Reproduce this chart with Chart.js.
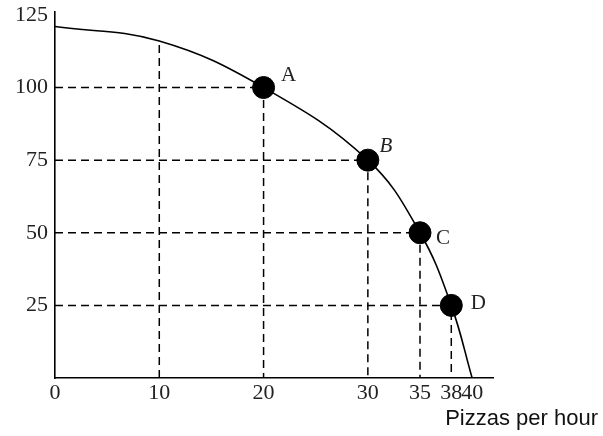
<!DOCTYPE html>
<html>
<head>
<meta charset="utf-8">
<script src="https://cdn.jsdelivr.net/npm/chart.js@4.4.1/dist/chart.umd.min.js"></script>
<style>
  html, body { margin: 0; padding: 0; background: #fff; }
  #wrap { width: 603px; height: 436px; }
</style>
</head>
<body>
<div id="wrap"><canvas id="myChart"></canvas></div>
<script>
// production possibilities: pizzas vs computers
const pointNames = ['A', 'B', 'C', 'D'];
const pizzas = [20, 30, 35, 38];
const computers = [100, 75, 50, 25];
// the curve itself
const curvePizzas = [0, 10, 20, 30, 35, 38, 40];
const curveComputers = [121, 116, 100, 75, 50, 25, 0];
const xTicks = [0, 10, 20, 30, 35, 38, 40];
const yTicks = [25, 50, 75, 100, 125];

const dash = [8, 5];
const datasets = [];

// the four marked points (first so they draw on top)
datasets.push({
  data: pizzas.map((p, i) => ({ x: p, y: computers[i] })),
  showLine: false,
  pointRadius: 11,
  pointBackgroundColor: '#000',
  pointBorderColor: '#000'
});

// frontier curve
datasets.push({
  data: curvePizzas.map((p, i) => ({ x: p, y: curveComputers[i] })),
  borderColor: '#000',
  borderWidth: 1.6,
  pointRadius: 0,
  tension: 0.4
});

// dashed guide lines to each point
pizzas.forEach((p, i) => {
  datasets.push({
    data: [{ x: 0, y: computers[i] }, { x: p, y: computers[i] }, { x: p, y: 0 }],
    borderColor: '#000',
    borderWidth: 1.5,
    borderDash: dash,
    pointRadius: 0
  });
});
// extra vertical at 10 up to the curve
datasets.push({
  data: [{ x: 10, y: 0 }, { x: 10, y: curveComputers[1] }],
  borderColor: '#000',
  borderWidth: 1.5,
  borderDash: dash,
  pointRadius: 0
});

const labelOffsets = [[25, -12], [18, -14], [23, 6], [27, -2]];

const extraText = {
  id: 'extraText',
  afterDraw(chart) {
    const c = chart.ctx;
    const xs = chart.scales.x, ys = chart.scales.y;
    c.save();
    c.fillStyle = '#222';
    c.textAlign = 'center';
    c.textBaseline = 'middle';
    pointNames.forEach((n, i) => {
      c.font = (n === 'B' ? 'italic ' : '') + '21px "Liberation Serif", serif';
      c.fillText(n, xs.getPixelForValue(pizzas[i]) + labelOffsets[i][0],
                    ys.getPixelForValue(computers[i]) + labelOffsets[i][1]);
    });
    c.font = '22px "Liberation Sans", Arial, sans-serif';
    c.textAlign = 'right';
    c.textBaseline = 'alphabetic';
    c.fillStyle = '#111';
    c.fillText('Pizzas per hour', 598, 425);
    c.restore();
  }
};

new Chart(document.getElementById('myChart'), {
  type: 'line',
  data: { datasets: datasets },
  plugins: [extraText],
  options: {
    responsive: true,
    maintainAspectRatio: false,
    animation: false,
    layout: { padding: { top: 8, right: 110, bottom: 0, left: 0 } },
    plugins: { legend: { display: false }, tooltip: { enabled: false } },
    scales: {
      x: {
        type: 'linear',
        min: 0,
        max: 42,
        grid: { display: false, drawTicks: false },
        border: { display: true, color: '#000', width: 1.6 },
        afterBuildTicks: s => { s.ticks = xTicks.map(v => ({ value: v })); },
        afterFit: s => { s.height = 58; s.paddingLeft = 0; s.paddingRight = 0; },
        ticks: {
          color: '#222',
          padding: 2,
          maxRotation: 0,
          autoSkip: false,
          font: { family: '"Liberation Serif", serif', size: 22 }
        }
      },
      y: {
        type: 'linear',
        min: 0,
        max: 126,
        grid: { display: false, drawTicks: false },
        border: { display: true, color: '#000', width: 1.6 },
        afterBuildTicks: s => { s.ticks = yTicks.map(v => ({ value: v })); },
        afterFit: s => { s.width = 55; s.paddingTop = 0; s.paddingBottom = 0; },
        ticks: {
          color: '#222',
          padding: 7,
          autoSkip: false,
          font: { family: '"Liberation Serif", serif', size: 22 }
        }
      }
    }
  }
});
</script>
</body>
</html>
